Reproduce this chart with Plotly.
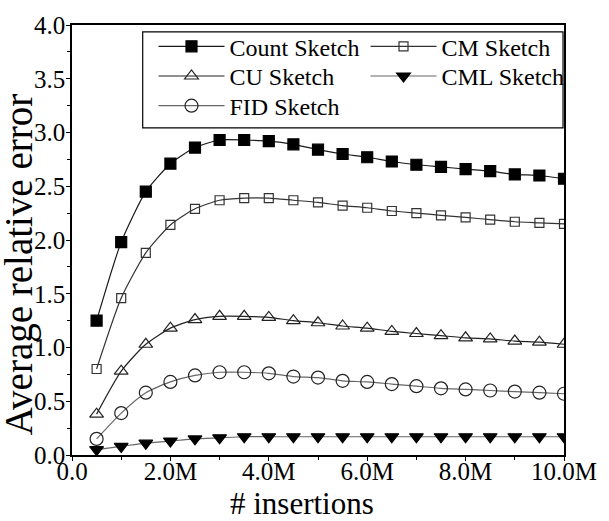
import plotly.graph_objects as go

x_m = [0.5, 1.0, 1.5, 2.0, 2.5, 3.0, 3.5, 4.0, 4.5, 5.0,
       5.5, 6.0, 6.5, 7.0, 7.5, 8.0, 8.5, 9.0, 9.5, 10.0]
count_sketch = [1.25, 1.98, 2.45, 2.71, 2.86, 2.93, 2.93, 2.92, 2.89, 2.84,
                2.80, 2.77, 2.73, 2.70, 2.68, 2.66, 2.64, 2.61, 2.60, 2.57]
cm_sketch = [0.80, 1.46, 1.88, 2.14, 2.29, 2.37, 2.39, 2.39, 2.37, 2.35,
             2.32, 2.30, 2.27, 2.25, 2.23, 2.21, 2.19, 2.17, 2.16, 2.15]
cu_sketch = [0.38, 0.78, 1.03, 1.18, 1.26, 1.29, 1.29, 1.28, 1.25, 1.23,
             1.20, 1.18, 1.15, 1.13, 1.11, 1.09, 1.08, 1.06, 1.05, 1.03]
cml_sketch = [0.05, 0.08, 0.11, 0.13, 0.15, 0.16, 0.17, 0.17, 0.17, 0.17,
              0.17, 0.17, 0.17, 0.17, 0.17, 0.17, 0.17, 0.17, 0.17, 0.17]
fid_sketch = [0.15, 0.39, 0.58, 0.68, 0.74, 0.77, 0.77, 0.76, 0.73, 0.72,
              0.69, 0.68, 0.66, 0.64, 0.62, 0.61, 0.60, 0.59, 0.58, 0.57]
x_tickvals = [0, 2, 4, 6, 8, 10]
x_ticktext = ["0.0", "2.0M", "4.0M", "6.0M", "8.0M", "10.0M"]
x_title = "# insertions"
y_title = "Average relative error"

FONT = "Liberation Serif"

# plot-area geometry (pixels) used to place legend / titles
L, R, T, B = 72, 573, 20, 455
PW, PH = R - L, B - T


def px_x(p):
    return (p - L) / PW


def px_y(p):
    return (B - p) / PH


series = [
    ("Count Sketch", count_sketch, "square", 11, "black", "#1a1a1a", "legend"),
    ("CM Sketch", cm_sketch, "square-open", 9, "#333333", "#333333", "legend"),
    ("CU Sketch", cu_sketch, "triangle-up-open", 12, "#222222", "#222222", "legend2"),
    ("CML Sketch", cml_sketch, "triangle-down", 12, "black", "#666666", "legend2"),
    ("FID Sketch", fid_sketch, "circle-open", 13, "#222222", "#666666", "legend3"),
]

fig = go.Figure()
for name, ys, sym, size, mcol, lcol, leg in series:
    fig.add_trace(go.Scatter(
        x=x_m, y=ys, name=name, mode="lines+markers", legend=leg,
        line=dict(color=lcol, width=1.2, shape="spline", smoothing=0.6),
        marker=dict(symbol=sym, size=size, color=mcol,
                    line=dict(color=mcol, width=1.2)),
    ))

axis_common = dict(
    showline=True, linecolor="black", linewidth=1.5, mirror=True,
    ticks="outside", tickwidth=1, tickcolor="black",
    showgrid=False, zeroline=False,
    tickfont=dict(family=FONT, size=25, color="black"),
)

fig.update_xaxes(
    range=[0, 10], tickvals=x_tickvals, ticktext=x_ticktext, ticklen=4,
    ticklabelstandoff=-11,
    minor=dict(dtick=1, ticks="outside", ticklen=3, tickcolor="black"),
    **axis_common,
)
fig.update_yaxes(
    range=[0, 4], dtick=0.5, tickformat=".1f", ticklen=4,
    ticklabelstandoff=-4,
    minor=dict(dtick=0.25, ticks="outside", ticklen=3, tickcolor="black"),
    **axis_common,
)

leg_common = dict(
    orientation="h", xanchor="left", yanchor="middle",
    entrywidth=131, entrywidthmode="pixels",
    font=dict(family=FONT, size=24, color="black"),
    borderwidth=0, bgcolor="rgba(0,0,0,0)", itemwidth=66,
)
leg_left = px_x(155)
fig.update_layout(
    legend=dict(x=leg_left, y=px_y(42), **leg_common),
    legend2=dict(x=leg_left, y=px_y(72), **leg_common),
    legend3=dict(x=leg_left, y=px_y(102), **leg_common),
)

# legend frame
fig.add_shape(type="rect", xref="paper", yref="paper",
              x0=px_x(144), x1=px_x(572), y0=px_y(124), y1=px_y(27),
              line=dict(color="black", width=1.2), fillcolor="rgba(0,0,0,0)")

fig.add_annotation(text=x_title, xref="paper", yref="paper",
                   x=px_x(306), y=px_y(504), xanchor="center", yanchor="middle",
                   showarrow=False, font=dict(family=FONT, size=31, color="black"))
fig.add_annotation(text=y_title, xref="paper", yref="paper", textangle=-90,
                   x=px_x(18), y=px_y(262), xanchor="center", yanchor="middle",
                   showarrow=False, font=dict(family=FONT, size=39, color="black"))

fig.update_layout(
    width=609, height=521,
    margin=dict(l=L, r=609 - R, t=T, b=521 - B),
    plot_bgcolor="white", paper_bgcolor="white",
    showlegend=True,
)

fig.write_html("out.html")
